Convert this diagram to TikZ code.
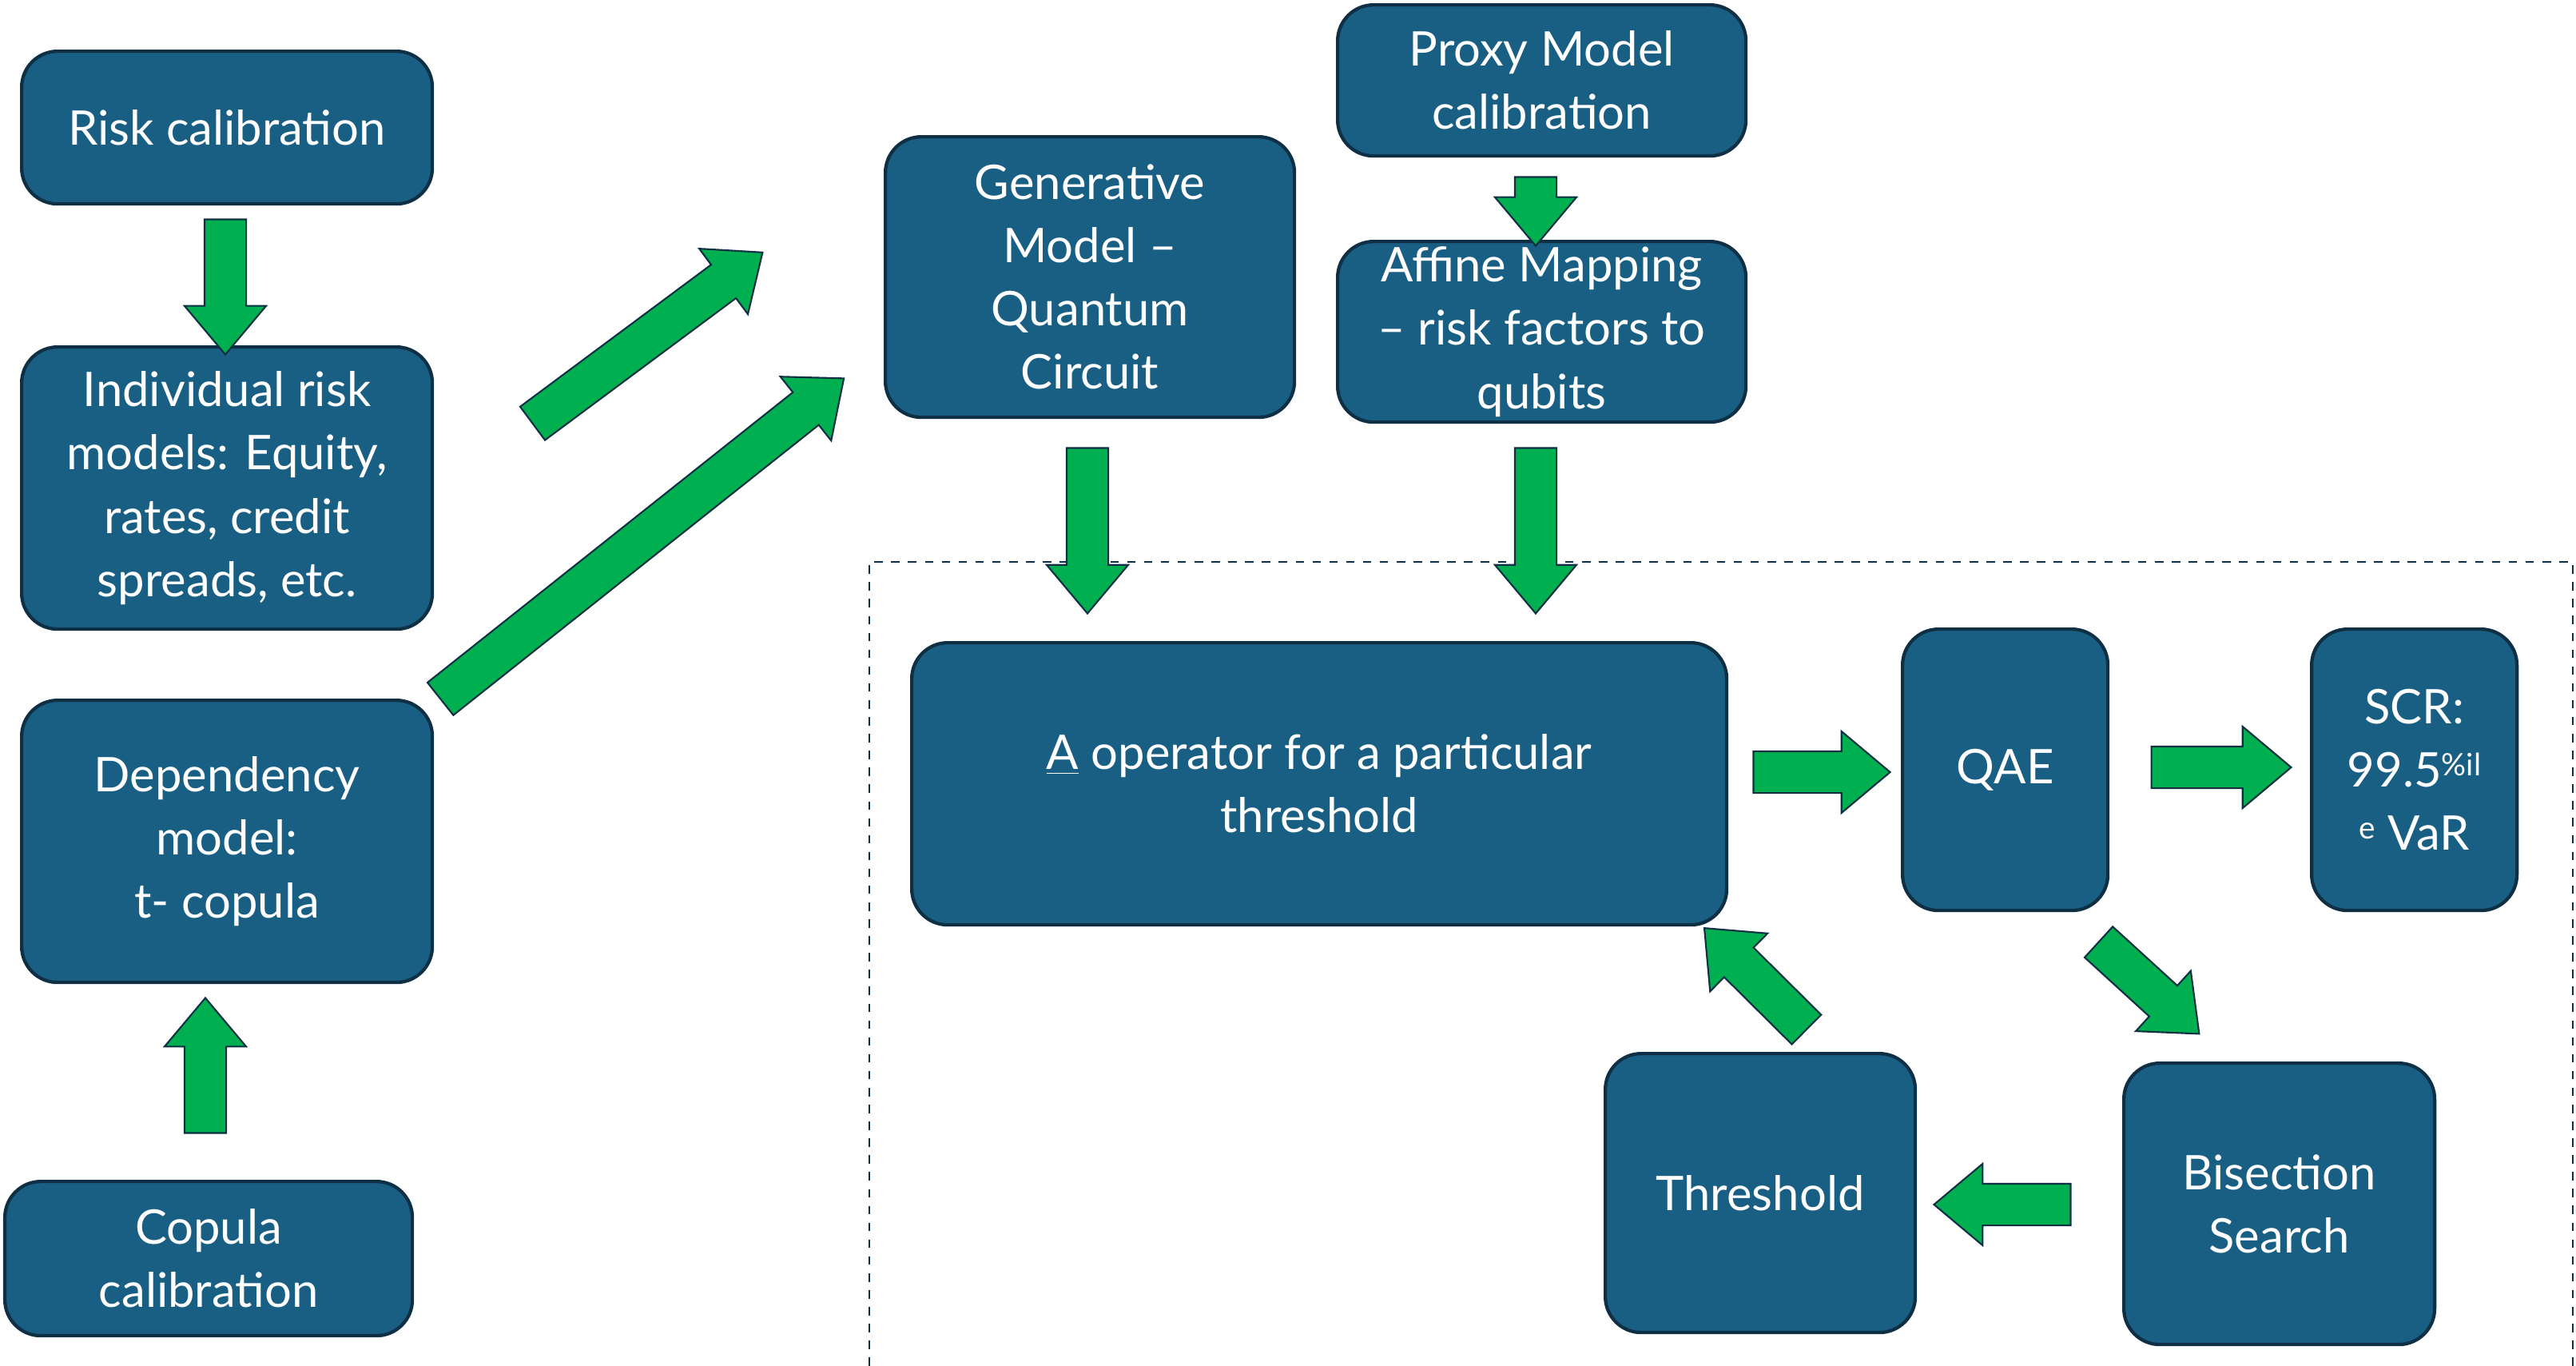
\documentclass[tikz,border=0pt]{standalone}
\usepackage{fontspec}
\setmainfont{Lato}
\usetikzlibrary{shapes.arrows,calc}
\definecolor{boxblue}{HTML}{195E83}
\definecolor{arrgreen}{HTML}{00B050}
\definecolor{edge}{HTML}{0E2F44}
\tikzset{
 bx/.style={draw=edge,line width=1.2pt,fill=boxblue,rounded corners=0.45cm,text=white,align=center,font=\fontsize{17}{22}\selectfont},
 barr/.style={single arrow,draw=edge,line width=0.6pt,fill=arrgreen,inner xsep=0pt,inner ysep=0.25cm,single arrow head extend=0.25cm,single arrow tip angle=80,text height=0pt,text depth=0pt,anchor=center}
}
\newcommand{\blk}[2]{\path let \p1=($(#2)-(#1)$), \n1={atan2(\y1,\x1)}, \n2={veclen(\x1,\y1)} in node[barr,minimum height=\n2,rotate=\n1] at ($(#1)!0.5!(#2)$) {};}
\newcommand{\bxat}[5]{\node[bx,minimum width=#3cm-#1cm,minimum height=#4cm-#2cm,anchor=north west] (#5) at (#1,-#2) {};}
\begin{document}
\begin{tikzpicture}
\useasboundingbox (0,0) rectangle (32.24,-17.08);
\draw[edge,dashed,line width=0.8pt] (10.88,-17.3) -- (10.88,-7.03) -- (32.2,-7.03) -- (32.2,-17.3);
\bxat{0.25}{0.62}{5.39}{2.53}{risk}
\bxat{0.25}{4.32}{5.39}{7.85}{ind}
\bxat{0.25}{8.74}{5.39}{12.27}{dep}
\bxat{0.04}{14.76}{5.14}{16.69}{cop}
\bxat{11.06}{1.69}{16.18}{5.20}{gen}
\bxat{16.72}{0.04}{21.83}{1.93}{proxy}
\bxat{16.72}{3.00}{21.83}{5.26}{aff}
\bxat{11.39}{8.02}{21.59}{11.55}{aop}
\bxat{23.79}{7.85}{26.36}{11.37}{qae}
\bxat{28.91}{7.85}{31.48}{11.37}{scr}
\bxat{20.07}{13.16}{23.95}{16.65}{thr}
\bxat{26.56}{13.28}{30.45}{16.80}{bis}
\tikzset{lbl/.style={text=white,align=center,font=\fontsize{17}{22.5}\selectfont}}
\node[lbl] at (risk) {Risk calibration};
\node[lbl] at (ind) {Individual risk\\models: Equity,\\rates, credit\\spreads, etc.};
\node[lbl] at (dep) {Dependency\\model:\\t- copula};
\node[lbl] at (cop) {Copula\\calibration};
\node[lbl] at (gen) {Generative\\Model --\\Quantum\\Circuit};
\node[lbl] at (proxy) {Proxy Model\\calibration};
\node[lbl] at (aff) {Affine Mapping\\-- risk factors to\\qubits};
\node[lbl] at (aop) {\underline{A} operator for a particular\\threshold};
\node[lbl] at (qae) {QAE};
\node[lbl] at (scr) {SCR:\\99.5\raisebox{0.45ex}{\fontsize{11}{11}\selectfont\%il}\\\raisebox{0.45ex}{\fontsize{11}{11}\selectfont e} VaR};
\node[lbl] at (thr) {Threshold};
\node[lbl] at (bis) {Bisection\\Search};
\coordinate (a1s) at (2.82,-2.59); \coordinate (a1e) at (2.82,-4.28);
\coordinate (a2s) at (2.57,-14.33); \coordinate (a2e) at (2.57,-12.64);
\coordinate (a3s) at (6.54,-5.39); \coordinate (a3e) at (9.42,-3.25);
\coordinate (a4s) at (5.39,-8.84); \coordinate (a4e) at (10.44,-4.83);
\coordinate (a5s) at (19.22,-2.06); \coordinate (a5e) at (19.22,-2.92);
\coordinate (a6s) at (13.61,-5.45); \coordinate (a6e) at (13.61,-7.52);
\coordinate (a7s) at (19.22,-5.45); \coordinate (a7e) at (19.22,-7.52);
\coordinate (a8s) at (21.79,-9.66); \coordinate (a8e) at (23.50,-9.66);
\coordinate (a9s) at (26.77,-9.60); \coordinate (a9e) at (28.52,-9.60);
\coordinate (a10s) at (26.15,-11.68); \coordinate (a10e) at (27.41,-12.83);
\coordinate (a11s) at (26.07,-15.07); \coordinate (a11e) at (24.36,-15.07);
\coordinate (a12s) at (22.72,-12.99); \coordinate (a12e) at (21.44,-11.72);
\blk{a1s}{a1e}\blk{a2s}{a2e}\blk{a3s}{a3e}\blk{a4s}{a4e}\blk{a5s}{a5e}\blk{a6s}{a6e}
\blk{a7s}{a7e}\blk{a8s}{a8e}\blk{a9s}{a9e}\blk{a10s}{a10e}\blk{a11s}{a11e}\blk{a12s}{a12e}
\end{tikzpicture}
\end{document}
